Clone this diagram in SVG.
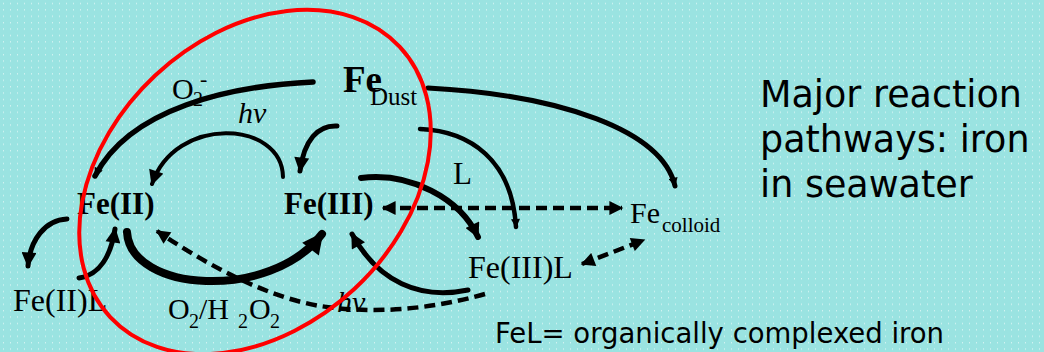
<svg xmlns="http://www.w3.org/2000/svg" width="1044" height="352" viewBox="0 0 1044 352">
<defs>
<pattern id="dots" width="7" height="6.4" patternUnits="userSpaceOnUse">
<rect x="3" y="3" width="1" height="1" fill="#ffffff" opacity="0.8"/>
</pattern>
<marker id="big" viewBox="0 0 10 10" refX="9" refY="5" markerWidth="25" markerHeight="21" markerUnits="userSpaceOnUse" orient="auto"><path d="M0,0 L10,5 L0,10 z" fill="#000"/></marker>
<marker id="med" viewBox="0 0 10 10" refX="9" refY="5" markerWidth="17" markerHeight="15" markerUnits="userSpaceOnUse" orient="auto"><path d="M0,0 L10,5 L0,10 z" fill="#000"/></marker>
<marker id="small" viewBox="0 0 10 10" refX="9" refY="5" markerWidth="10" markerHeight="9" markerUnits="userSpaceOnUse" orient="auto"><path d="M0,0 L10,5 L0,10 z" fill="#000"/></marker>
<marker id="dash" viewBox="0 0 10 10" refX="9" refY="5" markerWidth="16" markerHeight="14" markerUnits="userSpaceOnUse" orient="auto-start-reverse"><path d="M0,0 L10,5 L0,10 z" fill="#000"/></marker>
</defs>
<style>
.serif{font-family:"Liberation Serif","Times New Roman",serif;fill:#000}
.b{font-weight:bold}
.i{font-style:italic}
.sans{font-family:"DejaVu Sans",Verdana,sans-serif;fill:#000}
.ln{fill:none;stroke:#000;stroke-linecap:round}
.dsh{fill:none;stroke:#000;stroke-width:4.5;stroke-dasharray:11 6}
</style>
<rect width="1044" height="352" fill="#9ae3e1"/>
<rect width="1044" height="352" fill="url(#dots)"/>

<g id="connectors">
<path class="ln" d="M313,82 C230,86 130,108 95,176" stroke-width="5.5" marker-end="url(#small)"/>
<path class="ln" d="M428,88 C560,95 662,130 675,186" stroke-width="5" marker-end="url(#small)"/>
<path class="ln" d="M283,177 C282,120 175,115 152,184" stroke-width="4" marker-end="url(#med)"/>
<path class="ln" d="M337,126 C318,125 304,140 300,171" stroke-width="5" marker-end="url(#med)"/>
<path class="ln" d="M420,129 C470,131 512,160 516,227" stroke-width="4.5" marker-end="url(#small)"/>
<path class="ln" d="M361,178 C410,172 460,198 478,237" stroke-width="6" marker-end="url(#med)"/>
<path class="dsh" d="M383,208 L622,208" marker-start="url(#dash)" marker-end="url(#dash)"/>
<path class="dsh" d="M582,264 L644,240" marker-start="url(#dash)" marker-end="url(#dash)"/>
<path class="ln" d="M67,219 C45,220 30,240 28,266" stroke-width="5" marker-end="url(#med)"/>
<path class="ln" d="M79,278 C100,275 111,255 115,229" stroke-width="5" marker-end="url(#med)"/>
<path class="ln" d="M127,232 C130,292 270,302 322,234" stroke-width="8" marker-end="url(#big)"/>
<path class="dsh" d="M485,294 Q400,318 320,306 Q250,294 157,231" marker-end="url(#dash)"/>
<path class="ln" d="M468,290 C420,300 378,282 352,234" stroke-width="5" marker-end="url(#med)"/>
</g>

<g id="fe-dust"><text class="serif b" x="343" y="92" font-size="37">Fe</text><text class="serif" x="370" y="105" font-size="25">Dust</text></g>
<g id="fe-ii"><text class="serif b" x="77" y="214" font-size="31">Fe(II)</text></g>
<g id="fe-iii"><text class="serif b" x="284" y="214" font-size="31">Fe(III)</text></g>
<g id="fe-colloid"><text class="serif" x="630" y="223" font-size="30">Fe</text><text class="serif" x="662" y="232" font-size="21">colloid</text></g>
<g id="fe-iii-l"><text class="serif" x="468" y="278" font-size="32">Fe(III)L</text></g>
<g id="fe-ii-l"><text class="serif" x="13" y="311" font-size="32">Fe(II)L</text></g>

<g id="labels">
<text class="serif" x="172" y="99" font-size="30">O</text>
<text class="serif" x="193" y="106" font-size="20">2</text>
<text class="serif" x="200" y="86" font-size="22">-</text>
<text class="serif i" x="238" y="123" font-size="30">hv</text>
<text class="serif" x="453" y="184" font-size="31">L</text>
<text class="serif" x="168" y="319" font-size="30">O</text>
<text class="serif" x="189" y="328" font-size="20">2</text>
<text class="serif" x="199" y="319" font-size="30">/H</text>
<text class="serif" x="238" y="328" font-size="20">2</text>
<text class="serif" x="249" y="319" font-size="30">O</text>
<text class="serif" x="270" y="328" font-size="20">2</text>
<text class="serif i" x="337" y="312" font-size="30">hv</text>
<text class="sans" font-size="36.5" x="760" y="107">Major reaction</text>
<text class="sans" font-size="36.5" x="760" y="152">pathways: iron</text>
<text class="sans" font-size="36.5" x="760" y="197">in seawater</text>
<text class="sans" font-size="27.5" x="495" y="343">FeL= organically complexed iron</text>
</g>

<ellipse cx="255" cy="182" rx="198" ry="146" transform="rotate(-43 255 182)" fill="none" stroke="#ff0000" stroke-width="4"/>
</svg>
